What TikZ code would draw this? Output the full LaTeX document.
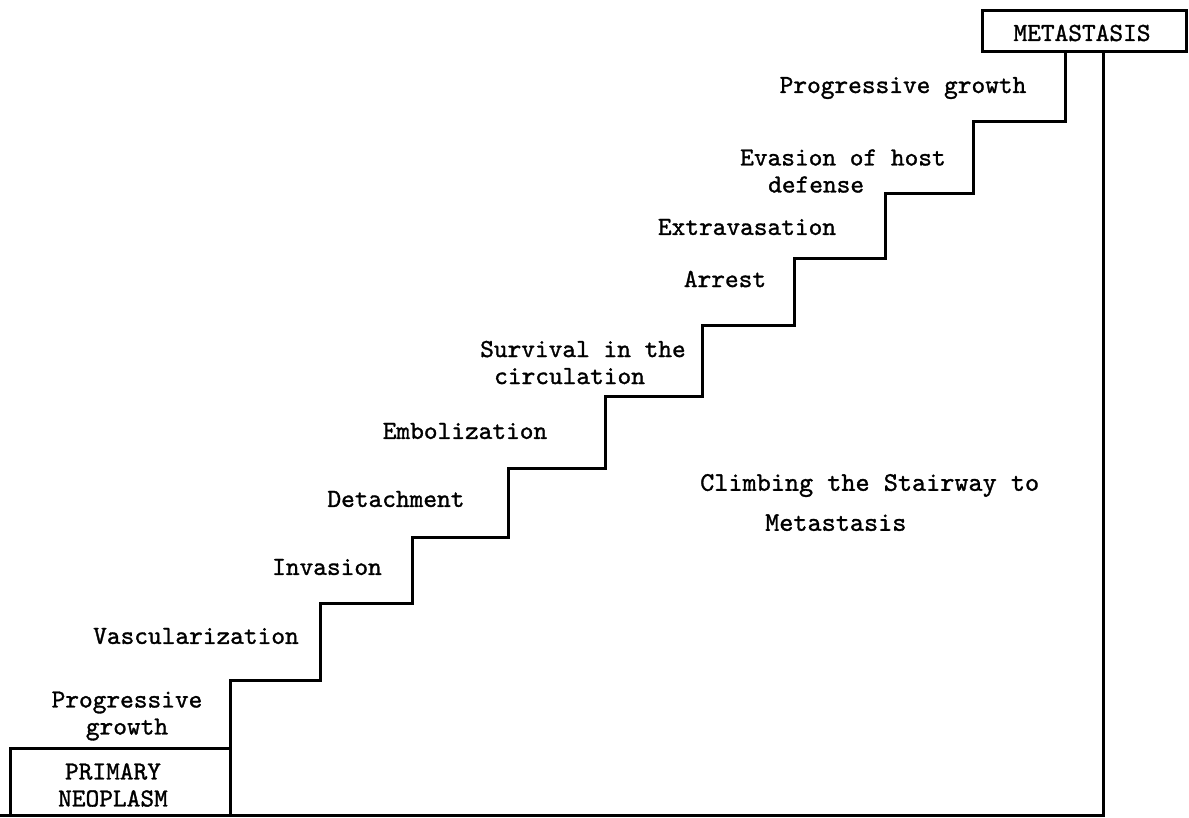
\documentclass[tikz,border=0pt]{standalone}
\usepackage{fontspec}
\newfontfamily\twfont[FakeBold=1.2]{lmmono10-regular.otf}
\begin{document}
\begin{tikzpicture}[x=1pt,y=-1pt,
  lbl/.style={font=\twfont\fontsize{26.1}{27}\selectfont,align=center,inner sep=0pt,anchor=center},
  lbll/.style={lbl,align=left,anchor=west},
  boxed/.style={draw,line width=3pt,inner sep=0pt},
  stair/.style={line width=3pt,line join=miter}]
\useasboundingbox (0,0) rectangle (1189,817);
% boxes
\node[boxed,minimum width=220pt,minimum height=67pt] (prim) at (120,781.5) {};
\node[lbl] (primtxt) at (113,785) {PRIMARY\\NEOPLASM};
\node[boxed,minimum width=204pt,minimum height=41pt] (meta) at (1084,30.5) {};
\node[lbl] (metatxt) at (1082,33) {METASTASIS};
% staircase
\coordinate (s0) at (230,748);
\coordinate (top) at (1065,51);
\draw[stair] (s0) -- (230,680) -- (320,680) -- (320,603) -- (412,603) -- (412,537)
  -- (508,537) -- (508,468) -- (605,468) -- (605,396) -- (702,396) -- (702,325)
  -- (794,325) -- (794,258) -- (885,258) -- (885,193) -- (973,193) -- (973,121)
  -- (1065,121) -- (top);
% ground and back wall
\coordinate (g0) at (0,815);
\coordinate (g1) at (1103,815);
\coordinate (w1) at (1103,51);
\draw[stair] (g0) -- (g1) -- (w1);
% labels
\node[lbl] (l1) at (127,716) {Progressive\\growth};
\node[lbl] (l2) at (196,636) {Vascularization};
\node[lbl] (l3) at (327,567) {Invasion};
\node[lbl] (l4) at (396,499) {Detachment};
\node[lbl] (l5) at (465,431) {Embolization};
\node[lbll] (l6) at (480,362.5) {Survival in the\\\hspace*{14pt}circulation};
\node[lbl] (l7) at (725,279) {Arrest};
\node[lbl] (l8) at (747,227) {Extravasation};
\node[lbll] (l9) at (740,171) {Evasion of host\\\hspace*{28pt}defense};
\node[lbl] (l10) at (903,88) {Progressive growth};
\node[lbll,font=\twfont\fontsize{26.9}{27}\selectfont] (title) at (700,502.5) {Climbing the Stairway to\\[13pt]\hspace*{65pt}Metastasis};
\end{tikzpicture}
\end{document}
